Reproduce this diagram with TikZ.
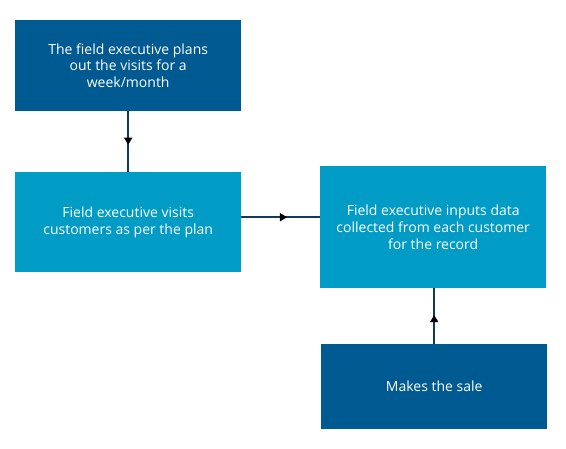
\documentclass[tikz,border=0pt]{standalone}
\usepackage{fontspec}
\setmainfont{Open Sans}
\usetikzlibrary{arrows.meta,decorations.markings}
\definecolor{darkbox}{HTML}{005A92}
\definecolor{lightbox}{HTML}{009CC5}
\definecolor{linecol}{HTML}{0D3B5E}
\tikzset{
  box/.style={fill=#1, text=white, inner sep=0pt, align=center,
    font=\fontsize{14}{16.8}\selectfont, anchor=north west},
  conn/.style={draw=linecol, line width=1.6pt, postaction={decorate},
    decoration={markings, mark=at position #1 with {\arrow[black]{Triangle[width=8pt,length=7pt]}}}},
}
\begin{document}
\begin{tikzpicture}[x=1pt,y=-1pt]
\useasboundingbox (0,0) rectangle (566,449);
\node[box=darkbox, minimum width=226pt, minimum height=91pt] (b1) at (15,20)
  {The field executive plans\\out the visits for a\\week/month};
\node[box=lightbox, minimum width=226pt, minimum height=100pt] (b2) at (15,172)
  {Field executive visits\\customers as per the plan};
\node[box=lightbox, minimum width=226pt, minimum height=122pt] (b3) at (320,166)
  {Field executive inputs data\\collected from each customer\\for the record};
\node[box=darkbox, minimum width=226pt, minimum height=85pt] (b4) at (321,344)
  {Makes the sale};
\coordinate (s2) at ([yshift=5pt]b2.east);
\draw[conn=0.55] (b1.south) -- (b2.north);
\draw[conn=0.58] (s2) -- (s2 -| b3.west);
\draw[conn=0.52] (b4.north) -- (b4.north |- b3.south);
\end{tikzpicture}
\end{document}
